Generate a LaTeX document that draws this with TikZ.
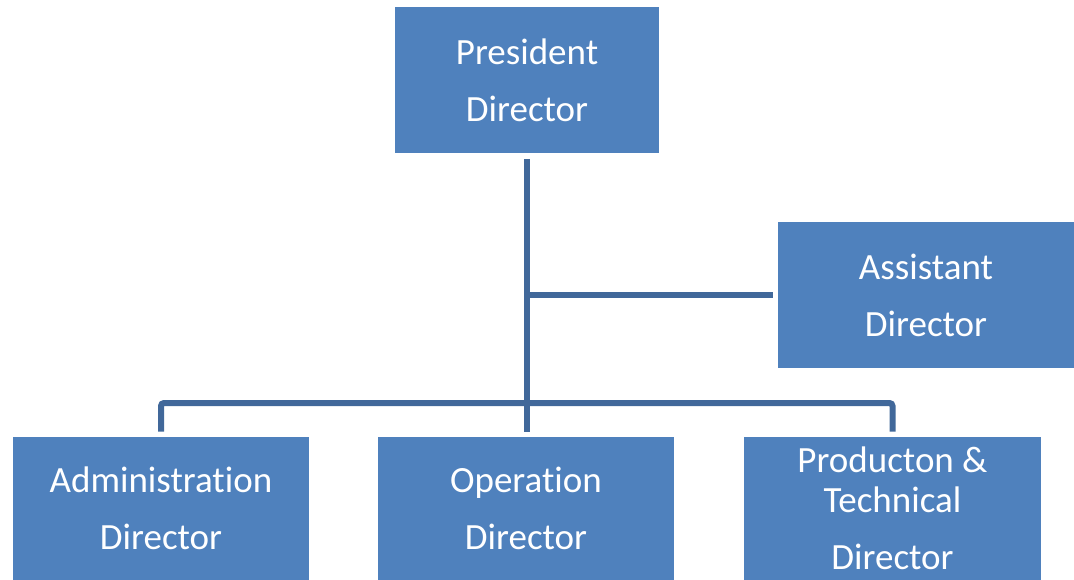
\documentclass[tikz,border=0pt]{standalone}
\usepackage{fontspec}
\setmainfont[Ligatures=NoCommon]{Carlito}
\definecolor{boxblue}{HTML}{4F81BD}
\definecolor{lineblue}{HTML}{41689A}
\tikzset{
  post/.style={fill=boxblue,text=white,align=center,inner sep=0pt,outer sep=5.5pt,
    font=\fontsize{37}{57}\selectfont},
  link/.style={draw=lineblue,line width=6pt,rounded corners=3pt}
}
\begin{document}
\begin{tikzpicture}[x=1pt,y=-1pt]
  \useasboundingbox (0,0) rectangle (1074,580);
  \node[post,minimum width=264,minimum height=146] (pres) at (527,80.5) {President\\Director};
  \node[post,minimum width=296,minimum height=145] (asst) at (926,295) {Assistant\\Director};
  \node[post,minimum width=296,minimum height=143] (adm) at (161,508.5) {Administration\\Director};
  \node[post,minimum width=296,minimum height=143] (op) at (526,508.5) {Operation\\Director};
  \node[post,minimum width=297,minimum height=143] (prod) at (892.5,508.5) {Producton \&\\[-17pt]Technical\\Director};
  \coordinate (bus) at (527,403);
  \draw[link] (pres.south) -- (pres.south |- op.north);
  \draw[link] (pres.south |- asst.west) -- (asst.west);
  \draw[link] (adm.north) |- (bus) -| (prod.north);
\end{tikzpicture}
\end{document}
